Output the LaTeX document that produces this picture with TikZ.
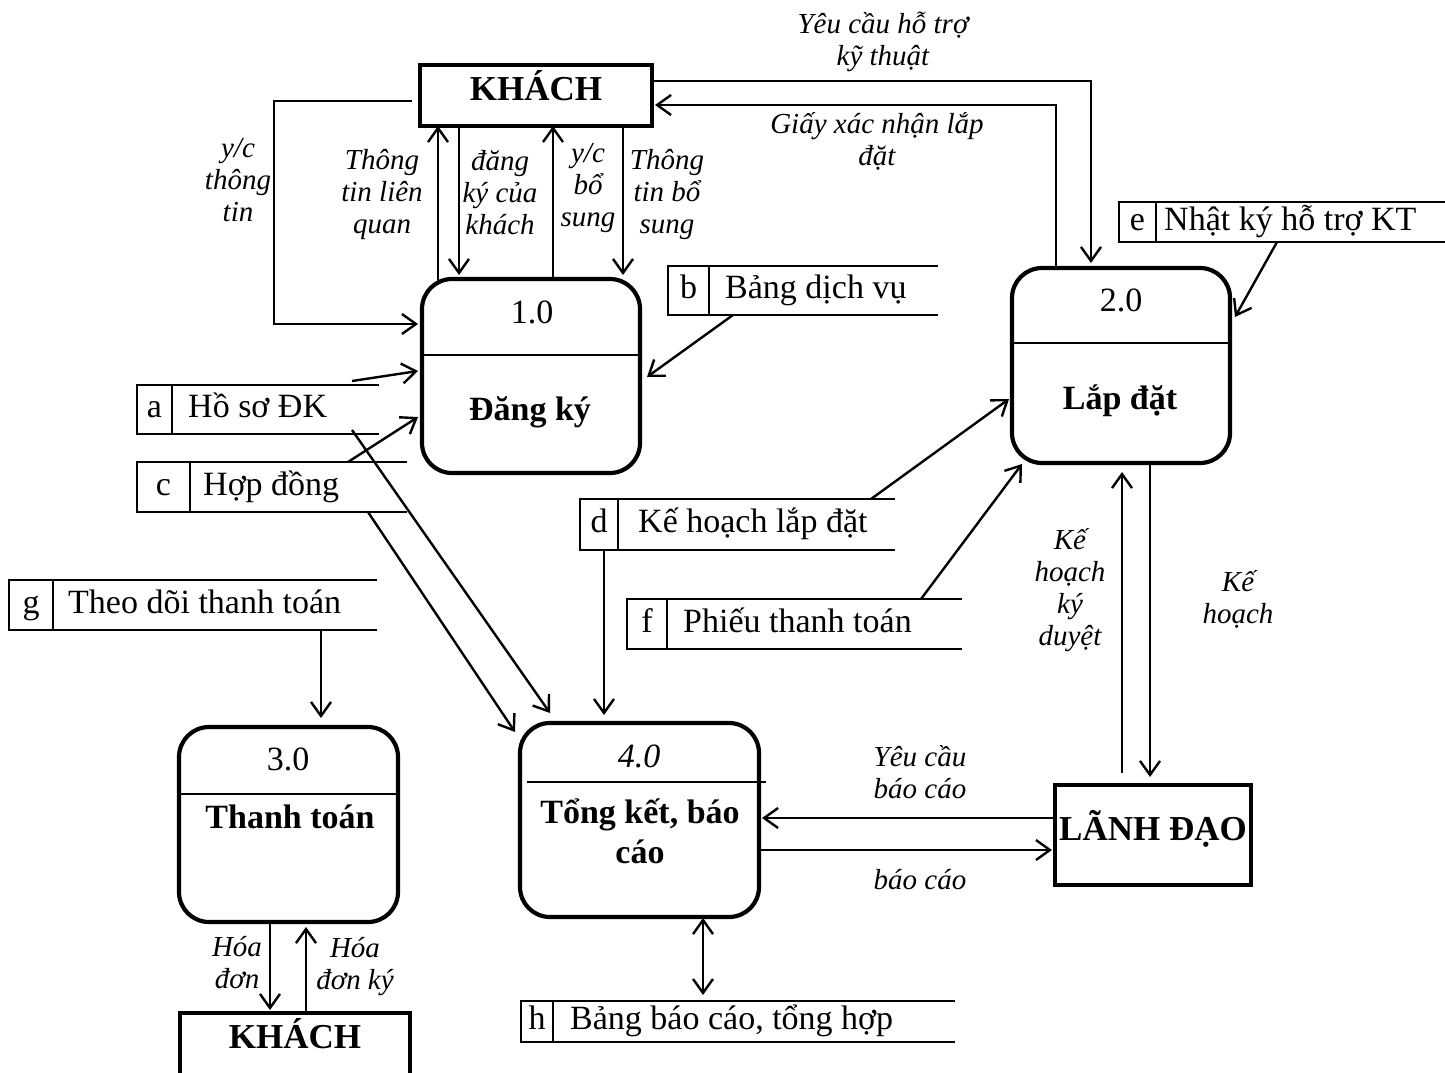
\documentclass[tikz,border=0pt]{standalone}
\usepackage{fontspec}
\setmainfont{Liberation Serif}
\usetikzlibrary{arrows.meta}

\begin{document}
\begin{tikzpicture}[
        x=1pt, y=-1pt,
        ent/.style={draw, line width=3.8pt, inner sep=0pt, outer sep=0pt},
        proc/.style={draw, line width=4.2pt, rounded corners=30pt, inner sep=0pt, outer sep=0pt},
        numtxt/.style={font=\fontsize{34}{38}\selectfont, inner sep=0pt},
        enttxt/.style={font=\fontsize{35}{40}\selectfont\bfseries, inner sep=0pt},
        ttltxt/.style={font=\fontsize{34}{38}\selectfont\bfseries, inner sep=0pt},
        lbl/.style={font=\fontsize{29}{32}\selectfont\itshape, align=center, inner sep=0pt},
        store/.style={inner sep=0pt, outer sep=0pt},
        storetxt/.style={font=\fontsize{34}{38}\selectfont, inner sep=0pt, text height=24pt, text depth=8pt},
        storeline/.style={line width=2.8pt},
        divline/.style={line width=2.2pt},
        flow/.style={-{Straight Barb[length=14pt,width=20pt]}, line width=2.4pt},
        twoway/.style={{Straight Barb[length=14pt,width=20pt]}-{Straight Barb[length=14pt,width=20pt]}, line width=2.4pt}
    ]

    \useasboundingbox (0,0) rectangle (1445,1073);
    \clip (0,0) rectangle (1445,1073);
    \fill[white] (0,0) rectangle (1445,1073);

    % external entities
    \node[ent, minimum width=232pt, minimum height=61pt] (k1) at (536,95.5) {};
    \node[enttxt, anchor=base] (k1-t) at (536,100) {KHÁCH};
    \node[ent, minimum width=196pt, minimum height=100pt] (ld) at (1153,835) {};
    \node[enttxt, anchor=base] (ld-t) at (1153,840) {LÃNH ĐẠO};
    \node[ent, minimum width=230pt, minimum height=74pt] (k2) at (295,1050) {};
    \node[enttxt, anchor=base] (k2-t) at (295,1048) {KHÁCH};

    % processes
    \node[proc, minimum width=218pt, minimum height=194pt] (p1) at (531,376) {};
    \draw[divline] ([yshift=-76pt]p1.north west) -- ([yshift=-76pt]p1.north east);
    \node[numtxt, anchor=base] (p1-n) at (532,323) {1.0};
    \node[ttltxt, anchor=base] (p1-t) at (530,420) {Đăng ký};

    \node[proc, minimum width=218pt, minimum height=195pt] (p2) at (1121,365.5) {};
    \draw[divline] ([yshift=-75pt]p2.north west) -- ([yshift=-75pt]p2.north east);
    \node[numtxt, anchor=base] (p2-n) at (1121,311) {2.0};
    \node[ttltxt, anchor=base] (p2-t) at (1120,409) {Lắp đặt};

    \node[proc, minimum width=219pt, minimum height=195pt] (p3) at (288.5,824.5) {};
    \draw[divline] ([yshift=-67pt]p3.north west) -- ([xshift=2pt,yshift=-67pt]p3.north east);
    \node[numtxt, anchor=base] (p3-n) at (288,770) {3.0};
    \node[ttltxt, anchor=base] (p3-t) at (290,828) {Thanh toán};

    \node[proc, minimum width=239pt, minimum height=194pt] (p4) at (639.5,820) {};
    \draw[divline] ([xshift=7pt,yshift=-59pt]p4.north west) -- ([xshift=7pt,yshift=-59pt]p4.north east);
    \node[numtxt, anchor=base] (p4-n) at (639,767) {\itshape 4.0};
    \node[ttltxt, anchor=base] (p4-t1) at (640,823) {Tổng kết, báo};
    \node[ttltxt, anchor=base] (p4-t2) at (640,863) {cáo};

    % data stores
    \foreach \sid/\scx/\scy/\swid/\shgt/\sdiv/\stx/\sname in {
        a/258/409.5/242/49/35/51/{Hồ sơ ĐK},
        b/803/290.5/270/49/41/57/{Bảng dịch vụ},
        c/272/487/270/50/53/66/{Hợp đồng},
        d/737.5/524.5/315/51/38/58/{Kế hoạch lắp đặt},
        e/1284.5/222/331/40/37/45/{Nhật ký hỗ trợ KT},
        f/794.5/624/335/50/40/56/{Phiếu thanh toán},
        g/193/605/368/50/44/59/{Theo dõi thanh toán},
        h/738/1021.5/434/41/32/49/{Bảng báo cáo, tổng hợp}}
    {
        \node[store, minimum width=\swid pt, minimum height=\shgt pt] (\sid) at (\scx,\scy) {};
        \draw[storeline] (\sid.north east) -- (\sid.north west) -- (\sid.south west) -- (\sid.south east);
        \draw[storeline] ([xshift=\sdiv pt]\sid.north west) -- ([xshift=\sdiv pt]\sid.south west);
        \node[storetxt] (\sid-id) at ([xshift=0.5*\sdiv pt]\sid.west) {\sid};
        \node[storetxt, anchor=west] (\sid-txt) at ([xshift=\stx pt]\sid.west) {\sname};
    }

    % flows KHACH - 1.0
    \draw[flow] ([xshift=-93pt,yshift=-4pt]p1.north) -- ([xshift=-93pt]p1.north |- k1.south);
    \draw[flow, shorten >=4pt] ([xshift=-72pt]p1.north |- k1.south) -- ([xshift=-72pt]p1.north);
    \draw[flow] ([xshift=22pt]p1.north) -- ([xshift=22pt]p1.north |- k1.south);
    \draw[flow, shorten >=4pt] ([xshift=92pt]p1.north |- k1.south) -- ([xshift=92pt]p1.north);
    \draw[flow] ([xshift=-8pt,yshift=-5.5pt]k1.west) -- ++(-138,0) |- ([xshift=-4pt,yshift=52pt]p1.west);

    \node[lbl] (l-yctt) at (238,180) {y/c\\thông\\tin};
    \node[lbl] (l-ttlq) at (382,195) {Thông\\tin liên\\quan};
    \node[lbl] (l-dkck) at (500,193) {đăng\\ký của\\khách};
    \node[lbl] (l-ycbs) at (588,188) {y/c\\bổ\\sung};
    \node[lbl] (l-ttbs) at (667,195) {Thông\\tin bổ\\sung};

    % flows KHACH - 2.0
    \draw[flow, shorten >=5pt] ([yshift=14.5pt]k1.east) -| ([xshift=-30pt]p2.north);
    \draw[flow, shorten >=3pt] ([xshift=-65pt]p2.north) |- ([yshift=-9.5pt]k1.east);
    \node[lbl] (l-ycht) at (883,42) {Yêu cầu hỗ trợ\\kỹ thuật};
    \node[lbl] (l-gxn) at (877,141) {Giấy xác nhận lắp\\đặt};

    % flows from stores
    \draw[flow] ([xshift=-27pt,yshift=4pt]a.north east) -- ([xshift=-4pt,yshift=5pt]p1.west);
    \draw[flow] ([xshift=-59pt]c.north east) -- ([xshift=-4pt,yshift=-41pt]p1.west);
    \draw[flow] ([xshift=65pt]b.south west) -- ([xshift=7pt,yshift=-1pt]p1.east);
    \draw[flow] ([xshift=-27pt,yshift=4pt]a.south east) -- ([xshift=30pt,yshift=10pt]p4.north west);
    \draw[flow] ([xshift=-39pt]c.south east) -- ([xshift=-5pt,yshift=-9pt]p4.north west);
    \draw[flow, shorten >=8pt] ([xshift=24pt]d.south west) -- ([xshift=24pt]d.south west |- p4.north);
    \draw[flow] ([xshift=-24pt]d.north east) -- ([xshift=-3pt,yshift=-33.5pt]p2.west);
    \draw[flow] ([xshift=-41pt]f.north east) -- ([xshift=10pt,yshift=-1pt]p2.south west);
    \draw[flow] ([xshift=158pt]e.south west) -- ([xshift=5pt,yshift=48.5pt]p2.east);
    \draw[flow, shorten >=9pt] ([xshift=312pt]g.south west) -- ([xshift=312pt]g.south west |- p3.north);

    % flows 3.0 - KHACH
    \draw[flow, shorten >=3pt] ([xshift=-18.5pt]p3.south) -- ([xshift=-18.5pt]p3.south |- k2.north);
    \draw[flow, shorten >=5pt] ([xshift=17.5pt]p3.south |- k2.north) -- ([xshift=17.5pt]p3.south);
    \node[lbl] (l-hd) at (237,963) {Hóa\\đơn};
    \node[lbl] (l-hdk) at (355,967) {Hóa\\đơn ký};

    % flows 4.0 - LANH DAO, store h
    \draw[flow, shorten >=3pt] ([yshift=17pt]ld.west) -- ([yshift=17pt]ld.west -| p4.east);
    \draw[flow, shorten >=3pt] ([yshift=-15pt]ld.west -| p4.east) -- ([yshift=-15pt]ld.west);
    \node[lbl] (l-ycbc) at (920,772) {Yêu cầu\\báo cáo};
    \node[lbl] (l-bc) at (920,880) {báo cáo};
    \draw[twoway, shorten <=1pt, shorten >=6pt] ([xshift=63.5pt]p4.south) -- ([xshift=63.5pt]p4.south |- h.north);

    % flows 2.0 - LANH DAO
    \draw[flow, shorten <=12pt, shorten >=9pt] ([xshift=-31pt]ld.north) -- ([xshift=-31pt]ld.north |- p2.south);
    \draw[flow, shorten >=8pt] ([xshift=29pt]p2.south) -- ([xshift=29pt]p2.south |- ld.north);
    \node[lbl] (l-khkd) at (1070,590) {Kế\\hoạch\\ký\\duyệt};
    \node[lbl] (l-kh) at (1238,599) {Kế\\hoạch};

\end{tikzpicture}
\end{document}
